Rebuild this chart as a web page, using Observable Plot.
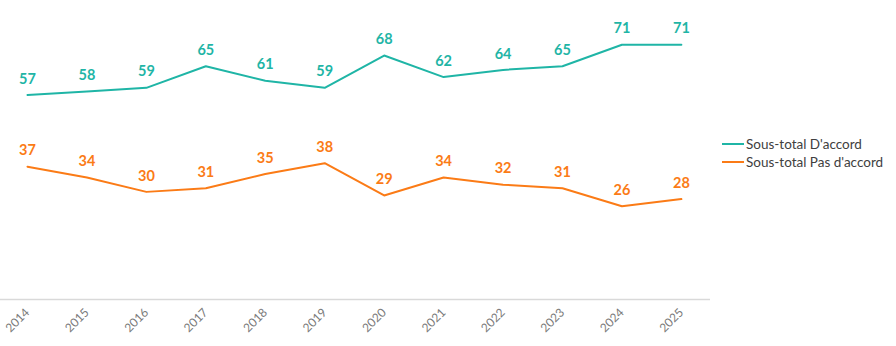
<!DOCTYPE html>
<html><head><meta charset="utf-8">
<script src="https://cdn.jsdelivr.net/npm/d3@7"></script>
<script src="https://cdn.jsdelivr.net/npm/@observablehq/plot@0.6"></script>
<style>
body{margin:0;background:#fff;}
#wrap{position:relative;width:896px;height:346px;}
.leg{position:absolute;left:722px;font-family:"Lato",sans-serif;font-size:13.5px;color:#404040;display:flex;align-items:center;}
.leg span.sw{display:inline-block;width:22px;height:2.5px;margin-right:2px;}
</style></head>
<body><div id="wrap"></div>
<script>
const years = [2014,2015,2016,2017,2018,2019,2020,2021,2022,2023,2024,2025];
const accord = [57,58,59,65,61,59,68,62,64,65,71,71];
const pasAccord = [37,34,30,31,35,38,29,34,32,31,26,28];
const seriesNames = ["Sous-total D'accord","Sous-total Pas d'accord"];
const colors = ["#1fb5a6","#fb7b16"];

const data = [];
years.forEach((y,i)=>{
  data.push({year:y, value:accord[i], s:seriesNames[0]});
  data.push({year:y, value:pasAccord[i], s:seriesNames[1]});
});

const chart = Plot.plot({
  width:896, height:346,
  marginLeft:0, marginRight:186, marginTop:12, marginBottom:47,
  style:{fontFamily:"Lato, sans-serif", background:"#fff"},
  x:{domain:[2013.546,2025.49]},
  y:{domain:[0,80], axis:null},
  color:{domain:seriesNames, range:colors},
  marks:[
    Plot.ruleY([0],{stroke:"#d9d9d9", strokeWidth:1.5}),
    Plot.axisX({ticks:years, tickFormat:d=>String(d), tickSize:0, tickRotate:-45, tickPadding:11, fontSize:12, fill:"#7a7a7a", label:null}),
    Plot.line(data,{x:"year", y:"value", stroke:"s", strokeWidth:2}),
    Plot.text(data,{x:"year", y:"value", text:d=>String(d.value), fill:"s", dy:-16, fontSize:14.5, fontWeight:"bold"})
  ]
});
const wrap = document.getElementById("wrap");
wrap.appendChild(chart);
seriesNames.forEach((n,i)=>{
  const d=document.createElement("div");
  d.className="leg";
  d.style.top=(136+i*18)+"px";
  d.innerHTML=`<span class="sw" style="background:${colors[i]}"></span>${n}`;
  wrap.appendChild(d);
});
</script></body></html>
